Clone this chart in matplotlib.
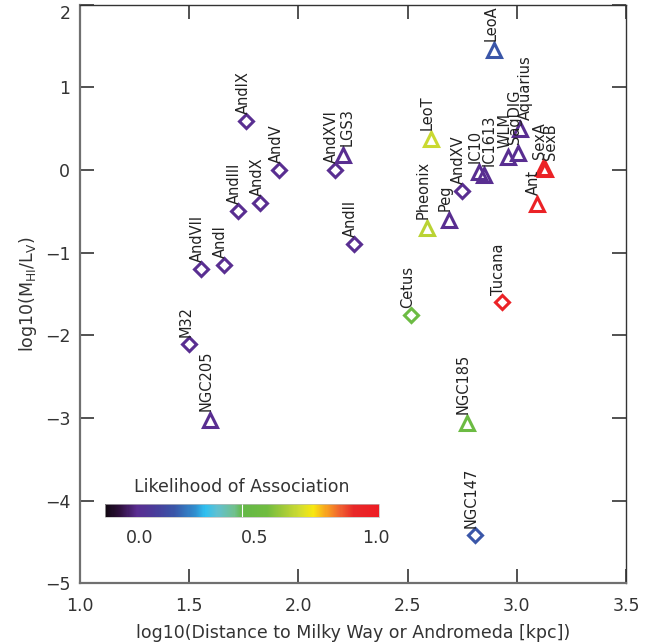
import matplotlib
matplotlib.use('Agg')
import matplotlib.pyplot as plt
import numpy as np
from matplotlib.colors import LinearSegmentedColormap, Normalize
from matplotlib.colorbar import ColorbarBase

# galaxies: name, log10 distance (kpc), log10(M_HI/L_V), marker, likelihood of association
names = ['M32', 'NGC205', 'AndVII', 'AndI', 'AndIII', 'AndX', 'AndIX', 'AndV',
         'AndXVI', 'LGS3', 'AndII', 'Cetus', 'Pheonix', 'LeoT', 'Peg', 'AndXV',
         'IC10', 'IC1613', 'NGC185', 'NGC147', 'LeoA', 'Tucana', 'WLM', 'SagDIG',
         'Aquarius', 'Ant', 'SexA', 'SexB']
log_dist = [1.50, 1.595, 1.554, 1.659, 1.722, 1.826, 1.762, 1.913,
            2.168, 2.203, 2.255, 2.514, 2.589, 2.607, 2.690, 2.750,
            2.827, 2.851, 2.771, 2.809, 2.897, 2.931, 2.961, 3.007,
            3.015, 3.091, 3.121, 3.131]
log_ratio = [-2.10, -3.02, -1.20, -1.15, -0.50, -0.40, 0.59, 0.00,
             0.00, 0.18, -0.90, -1.75, -0.70, 0.38, -0.61, -0.25,
             -0.02, -0.06, -3.06, -4.41, 1.45, -1.60, 0.16, 0.20,
             0.50, -0.41, 0.02, 0.01]
shapes = ['D', '^', 'D', 'D', 'D', 'D', 'D', 'D',
          'D', '^', 'D', 'D', '^', '^', '^', 'D',
          '^', '^', '^', 'D', '^', 'D', '^', '^',
          '^', '^', '^', '^']
likelihood = [0.12, 0.12, 0.12, 0.12, 0.12, 0.12, 0.12, 0.12,
              0.12, 0.12, 0.12, 0.56, 0.68, 0.70, 0.12, 0.12,
              0.12, 0.12, 0.56, 0.25, 0.25, 0.95, 0.12, 0.12,
              0.12, 0.95, 0.95, 0.95]

cbar_ticks = ['0.0', '0.5', '1.0']

# some labels were pushed sideways in the original so they don't sit on top of each other
label_nudge = {'LGS3': 8, 'IC1613': 8, 'Aquarius': 9, 'SexB': 9}

# rainbow-ish table like the IDL one
cmap = LinearSegmentedColormap.from_list('idl_rainbow', [
    (0.00, '#100810'), (0.055, '#301040'), (0.115, '#5a2d91'),
    (0.18, '#4a3c9a'), (0.25, '#3a55a8'), (0.33, '#3090d0'),
    (0.365, '#30c0f0'), (0.41, '#60c0d0'), (0.47, '#70c090'),
    (0.50, '#64b848'), (0.59, '#70bc40'), (0.66, '#a8cc38'),
    (0.71, '#d0dc30'), (0.76, '#f8e810'), (0.81, '#f8a020'),
    (0.86, '#f06030'), (0.91, '#e82828'), (1.00, '#ee1c24')])

plt.rcParams['font.family'] = 'DejaVu Sans'
fig = plt.figure(figsize=(6.53, 6.43), dpi=100)
ax = fig.add_axes([80 / 653, 1 - 583.3 / 643, 546 / 653, 578.6 / 643])

for name, x, y, m, p in zip(names, log_dist, log_ratio, shapes, likelihood):
    col = cmap(p)
    dx = 1 + label_nudge.get(name, 0)
    if m == 'D':
        ax.plot(x, y, marker='D', ms=7.6, mfc='none', mec=col, mew=2.2, ls='none')
        off = (dx, 7)
    else:
        ax.plot(x, y, marker='^', ms=10.5, mfc='none', mec=col, mew=2.2, ls='none')
        off = (dx, 9)
    ax.annotate(name, (x, y), xytext=off, textcoords='offset pixels',
                rotation=90, rotation_mode='anchor', ha='left', va='baseline',
                fontsize=10.5, color='#222222')

ax.set_xlim(1.0, 3.5)
ax.set_ylim(-5, 2)
ax.set_xticks(np.arange(1.0, 3.51, 0.5))
ax.set_xticklabels(['%.1f' % v for v in np.arange(1.0, 3.51, 0.5)])
ax.set_yticks(range(-5, 3))
ax.tick_params(direction='in', length=10, width=1.2, top=True, right=True,
               labelsize=12.5, colors='#333333', pad=7)
ax.tick_params(axis='x', pad=10)
# top label sits below the corner so it is not clipped
ax.get_yticklabels()[-1].set_va('top')
for s in ['left', 'bottom']:
    ax.spines[s].set_color('#707070')
    ax.spines[s].set_linewidth(1.6)
for s in ['top', 'right']:
    ax.spines[s].set_color('#333333')
    ax.spines[s].set_linewidth(1.0)

ax.set_xlabel('log10(Distance to Milky Way or Andromeda [kpc])', fontsize=12.5,
              color='#333333', labelpad=6)
ax.set_ylabel(r'log10(M$_{\rm HI}$/L$_{\rm V}$)', fontsize=12.5, color='#333333',
              labelpad=4)

# colour bar inside the plot
cax = fig.add_axes([105 / 653, 1 - 516.7 / 643, 274 / 653, 12.7 / 643])
cb = ColorbarBase(cax, cmap=cmap, norm=Normalize(0, 1), orientation='horizontal')
cb.outline.set_edgecolor('#bbbbbb')
cb.outline.set_linewidth(0.5)
cax.axvline(0.5, color='white', lw=0.8)
cb.set_ticks([0.128, 0.547, 0.989])
cb.set_ticklabels(cbar_ticks)
cax.tick_params(length=0, labelsize=12.5, colors='#333333', pad=9)
cax.set_title('Likelihood of Association', fontsize=12.5, color='#333333', pad=9)

fig.savefig('out.png', dpi=100)
